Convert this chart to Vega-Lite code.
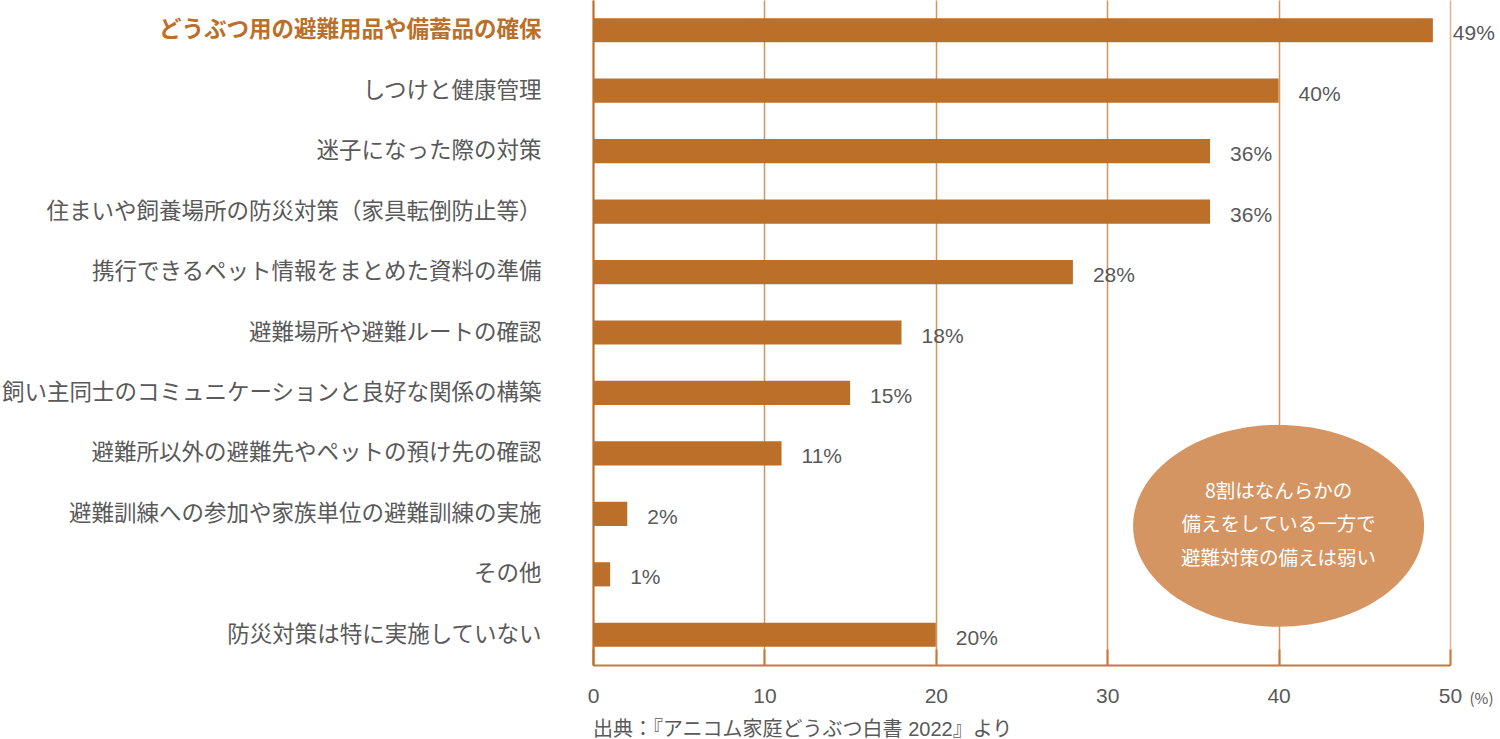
{
  "$schema": "https://vega.github.io/schema/vega-lite/v6.json",
  "width": 857,
  "height": 665,
  "autosize": {"type": "none"},
  "padding": {"left": 593, "top": 0, "right": 50, "bottom": 74},
  "background": "white",
  "config": {
    "view": {"stroke": null},
    "font": "Liberation Sans, Noto Sans CJK JP, sans-serif"
  },
  "title": {
    "text": "出典：『アニコム家庭どうぶつ白書 2022』より",
    "orient": "bottom",
    "anchor": "start",
    "frame": "group",
    "fontSize": 20,
    "fontWeight": "normal",
    "color": "#595959",
    "font": "Liberation Sans, Noto Sans CJK JP, sans-serif",
    "offset": 14
  },
  "data": {
    "values": [
      {"item": "どうぶつ用の避難用品や備蓄品の確保", "pct": 49, "label": "49%"},
      {"item": "しつけと健康管理", "pct": 40, "label": "40%"},
      {"item": "迷子になった際の対策", "pct": 36, "label": "36%"},
      {"item": "住まいや飼養場所の防災対策（家具転倒防止等）", "pct": 36, "label": "36%"},
      {"item": "携行できるペット情報をまとめた資料の準備", "pct": 28, "label": "28%"},
      {"item": "避難場所や避難ルートの確認", "pct": 18, "label": "18%"},
      {"item": "飼い主同士のコミュニケーションと良好な関係の構築", "pct": 15, "label": "15%"},
      {"item": "避難所以外の避難先やペットの預け先の確認", "pct": 11, "label": "11%"},
      {"item": "避難訓練への参加や家族単位の避難訓練の実施", "pct": 2, "label": "2%"},
      {"item": "その他", "pct": 1, "label": "1%"},
      {"item": "防災対策は特に実施していない", "pct": 20, "label": "20%"}
    ]
  },
  "encoding": {
    "y": {
      "field": "item",
      "type": "nominal",
      "sort": null,
      "scale": {"paddingInner": 0.6, "paddingOuter": 0.3},
      "axis": {
        "title": null,
        "ticks": false,
        "domain": true,
        "domainColor": "#BB6F29",
        "domainWidth": 2,
        "labelFontSize": 22.5,
        "labelFont": "Noto Sans CJK JP",
        "labelPadding": 52,
        "labelLimit": 700,
        "labelColor": {
          "condition": {"test": "datum.value === 'どうぶつ用の避難用品や備蓄品の確保'", "value": "#BB6F29"},
          "value": "#595959"
        },
        "labelFontWeight": {
          "condition": {"test": "datum.value === 'どうぶつ用の避難用品や備蓄品の確保'", "value": "bold"},
          "value": "normal"
        }
      }
    }
  },
  "layer": [
    {
      "mark": {"type": "bar", "color": "#BB6F29"},
      "encoding": {
        "x": {
          "field": "pct",
          "type": "quantitative",
          "scale": {"domain": [0, 50], "nice": false},
          "axis": {
            "values": [0, 10, 20, 30, 40, 50],
            "title": "(%)",
            "titleFontSize": 15,
            "titleFontWeight": "normal",
            "titleColor": "#595959",
            "titleFont": "Noto Sans CJK JP",
            "titleAnchor": "start",
            "titleAlign": "left",
            "titleBaseline": "middle",
            "titleX": 876,
            "titleY": 33,
            "grid": true,
            "gridColor": {
              "condition": {"test": "datum.value === 50", "value": "#E2B48C"},
              "value": "#D4955C"
            },
            "gridWidth": 1.5,
            "domainColor": "#C8793A",
            "domainWidth": 2,
            "tickColor": "#C8793A",
            "tickWidth": 2,
            "tickSize": -16,
            "labelPadding": 36,
            "labelFontSize": 21,
            "labelColor": "#595959",
            "labelFont": "Liberation Sans",
            "labelFlush": false
          }
        }
      }
    },
    {
      "mark": {"type": "text", "align": "left", "baseline": "middle", "dx": 20, "dy": 4, "fontSize": 21, "color": "#595959", "font": "Liberation Sans"},
      "encoding": {
        "x": {"field": "pct", "type": "quantitative"},
        "text": {"field": "label"}
      }
    },
    {
      "data": {"values": [{"item": "避難訓練への参加や家族単位の避難訓練の実施", "pos": 40, "note": ["8割はなんらかの", "備えをしている一方で", "避難対策の備えは弱い"]}]},
      "layer": [
        {
          "mark": {
            "type": "point",
            "shape": "M-1,0A1,0.694 0 1,1 1,0A1,0.694 0 1,1 -1,0Z",
            "filled": true,
            "color": "#D49563",
            "opacity": 1,
            "size": 84681,
            "yOffset": 12
          },
          "encoding": {
            "x": {"field": "pos", "type": "quantitative"}
          }
        },
        {
          "mark": {"type": "text", "align": "center", "baseline": "middle", "fontSize": 19.5, "lineHeight": 33.5, "color": "white", "font": "Noto Sans CJK JP", "yOffset": -22},
          "encoding": {
            "x": {"field": "pos", "type": "quantitative"},
            "text": {"field": "note"}
          }
        }
      ]
    }
  ]
}
